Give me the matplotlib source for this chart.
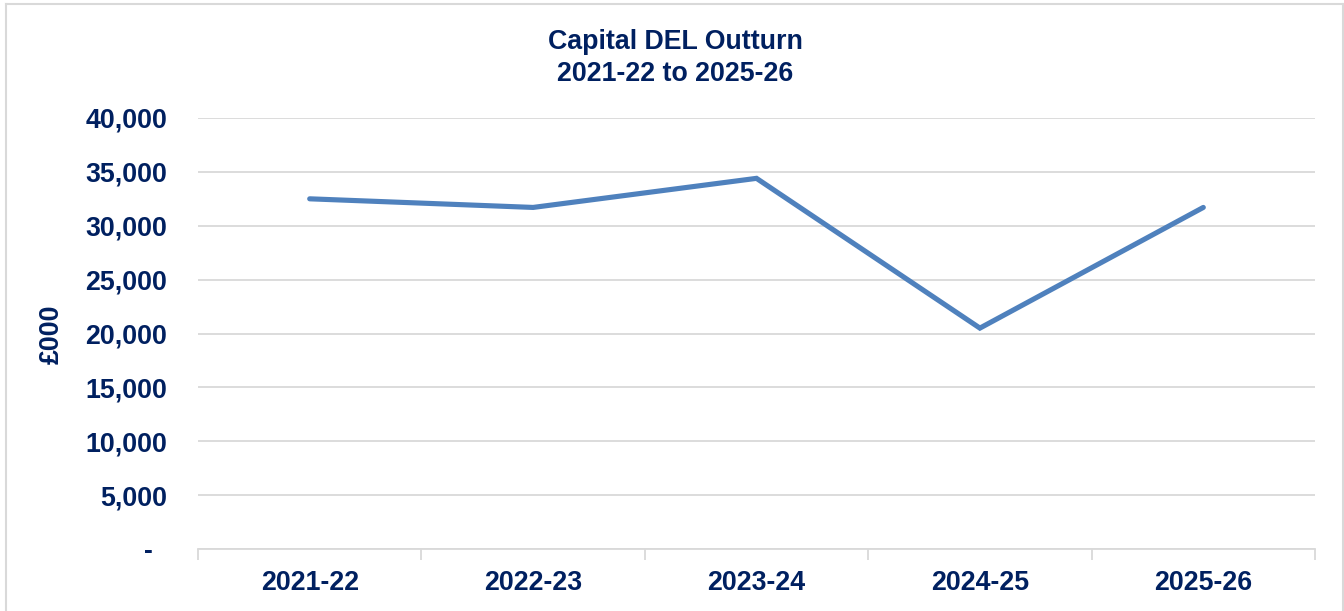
import matplotlib.pyplot as plt
from matplotlib.lines import Line2D
from matplotlib.ticker import FuncFormatter

# Capital DEL outturn, £000
years = ['2021-22', '2022-23', '2023-24', '2024-25', '2025-26']
outturn = [32500, 31700, 34400, 20500, 31700]
y_ticks = [0, 5000, 10000, 15000, 20000, 25000, 30000, 35000, 40000]

navy = '#002060'
line_blue = '#4F81BD'
grey = '#D9D9D9'
fsize = 19.3

plt.rcParams['font.family'] = ['Liberation Sans', 'DejaVu Sans']

fig = plt.figure(figsize=(13.44, 6.11), dpi=100)
ax = fig.add_axes([198 / 1344, 1 - 549 / 611, (1315 - 198) / 1344, (549 - 118) / 611])

x = list(range(len(years)))
ax.plot(x, outturn, color=line_blue, linewidth=3.7, solid_capstyle='round',
        solid_joinstyle='miter', zorder=3)

ax.set_xlim(-0.5, len(years) - 0.5)
ax.set_ylim(0, 40000)
ax.set_yticks(y_ticks)
# accounting style: zero shown as a dash
ax.yaxis.set_major_formatter(FuncFormatter(lambda v, p: '-  ' if v == 0 else f'{v:,.0f}'))
ax.grid(axis='y', color=grey, linewidth=1.3, zorder=0)

# category labels centred, tick marks on the boundaries
ax.set_xticks(x)
ax.set_xticklabels(years)
ax.set_xticks([i - 0.5 for i in range(len(years) + 1)], minor=True)
ax.tick_params(axis='x', which='major', length=0, pad=15)
ax.tick_params(axis='x', which='minor', length=8, width=1.3, color=grey)
ax.tick_params(axis='y', length=0, pad=22)

for lbl in ax.get_xticklabels() + ax.get_yticklabels():
    lbl.set_fontsize(fsize)
    lbl.set_fontweight('bold')
    lbl.set_color(navy)

for side in ['top', 'right', 'left']:
    ax.spines[side].set_visible(False)
ax.spines['bottom'].set_color(grey)
ax.spines['bottom'].set_linewidth(1.3)

fig.text(52 / 1344, 1 - 334 / 611, '£000', rotation=90, ha='center', va='center',
         fontsize=fsize, fontweight='bold', color=navy)
fig.text(675 / 1344, 1 - 58 / 611, 'Capital DEL Outturn\n2021-22 to 2025-26',
         ha='center', va='center', fontsize=fsize, fontweight='bold', color=navy,
         linespacing=1.3)

# chart area border
for xs, ys in [([6, 1343], [4, 4]), ([6, 6], [4, 611]), ([1343, 1343], [4, 611])]:
    fig.add_artist(Line2D([v / 1344 for v in xs], [1 - v / 611 for v in ys],
                          color=grey, linewidth=1.5, transform=fig.transFigure))

fig.savefig('out.png', dpi=100)
